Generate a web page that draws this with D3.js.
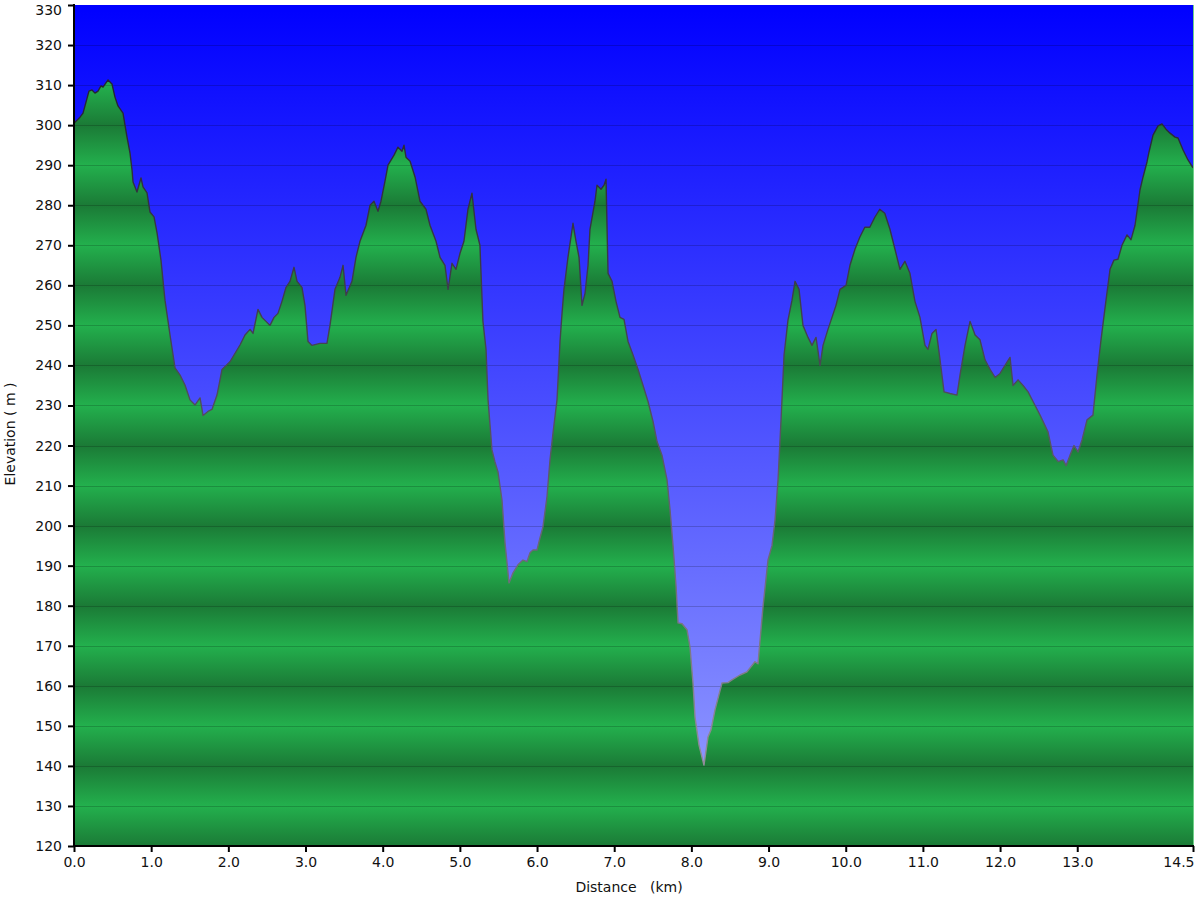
<!DOCTYPE html>
<html>
<head>
<meta charset="utf-8">
<script src="https://cdn.jsdelivr.net/npm/d3@7"></script>
<style>
  html, body { margin: 0; padding: 0; background: #ffffff; }
  svg { display: block; font-family: "DejaVu Sans", Verdana, sans-serif; }
</style>
</head>
<body>
<svg id="chart" width="1200" height="900"></svg>
<script>
// ---- data ----
const distanceKm = [
  0, 0.078, 0.117, 0.194, 0.233, 0.272, 0.311, 0.350, 0.376, 0.441, 0.492, 0.531, 0.570, 0.635, 0.687, 0.726, 0.752, 0.765,
  0.816, 0.868, 0.894, 0.946, 0.985, 1.037, 1.076, 1.127, 1.179, 1.244, 1.309, 1.374, 1.438, 1.503, 1.568, 1.633, 1.672,
  1.736, 1.788, 1.853, 1.892, 1.918, 2.021, 2.151, 2.216, 2.281, 2.320, 2.384, 2.436, 2.488, 2.540, 2.592, 2.643, 2.695,
  2.747, 2.799, 2.851, 2.890, 2.954, 2.993, 3.032, 3.084, 3.188, 3.278, 3.317, 3.382, 3.447, 3.486, 3.525, 3.602, 3.654,
  3.706, 3.784, 3.836, 3.887, 3.939, 3.978, 4.030, 4.069, 4.147, 4.198, 4.250, 4.276, 4.302, 4.355, 4.420, 4.483, 4.561,
  4.613, 4.691, 4.743, 4.807, 4.847, 4.898, 4.950, 5.002, 5.053, 5.105, 5.157, 5.209, 5.260, 5.299, 5.339, 5.365, 5.416,
  5.455, 5.494, 5.546, 5.585, 5.637, 5.689, 5.753, 5.818, 5.870, 5.909, 5.948, 5.999, 6.038, 6.077, 6.129, 6.168, 6.207,
  6.259, 6.298, 6.324, 6.349, 6.401, 6.466, 6.505, 6.544, 6.583, 6.622, 6.661, 6.686, 6.751, 6.777, 6.829, 6.868, 6.894,
  6.920, 6.972, 7.023, 7.075, 7.127, 7.179, 7.244, 7.309, 7.374, 7.438, 7.503, 7.555, 7.619, 7.684, 7.723, 7.762, 7.801,
  7.827, 7.879, 7.943, 7.982, 8.021, 8.047, 8.099, 8.163, 8.215, 8.254, 8.306, 8.397, 8.474, 8.526, 8.630, 8.721, 8.824,
  8.863, 8.928, 8.993, 9.045, 9.084, 9.123, 9.162, 9.201, 9.252, 9.304, 9.343, 9.395, 9.446, 9.511, 9.563, 9.615, 9.667,
  9.706, 9.770, 9.822, 9.874, 9.926, 10.004, 10.055, 10.120, 10.182, 10.247, 10.312, 10.377, 10.441, 10.506, 10.573,
  10.638, 10.703, 10.767, 10.832, 10.897, 10.962, 11.027, 11.066, 11.118, 11.170, 11.222, 11.274, 11.351, 11.442, 11.481,
  11.546, 11.611, 11.676, 11.740, 11.805, 11.870, 11.935, 12.000, 12.064, 12.129, 12.168, 12.233, 12.298, 12.363, 12.427,
  12.518, 12.621, 12.686, 12.752, 12.817, 12.856, 12.907, 12.958, 13.010, 13.062, 13.127, 13.204, 13.256, 13.308, 13.373,
  13.425, 13.476, 13.528, 13.580, 13.645, 13.697, 13.749, 13.813, 13.852, 13.904, 13.930, 13.982, 14.047, 14.098, 14.150,
  14.202, 14.267, 14.306, 14.371, 14.435, 14.500
];
const elevationM = [
  300.5, 302.0, 303.0, 308.5, 308.8, 308.0, 308.5, 309.8, 309.5, 311.3, 310.3, 307.0, 304.8, 303.0, 297.0, 293.0, 288.8, 285.8,
  283.3, 286.8, 284.6, 283.1, 278.3, 277.1, 273.1, 266.3, 256.3, 247.6, 239.4, 237.6, 235.1, 231.4, 230.1, 231.9, 227.5,
  228.5, 229.0, 232.6, 236.4, 239.0, 240.9, 245.1, 247.6, 249.0, 248.0, 254.0, 252.0, 251.0, 250.0, 252.0, 253.0, 256.0,
  259.5, 261.0, 264.5, 261.0, 259.5, 255.0, 246.0, 245.0, 245.5, 245.5, 250.0, 259.0, 262.0, 265.0, 257.5, 261.0, 267.0,
  271.0, 275.0, 280.0, 281.0, 278.5, 281.0, 286.0, 290.0, 292.5, 294.5, 293.5, 295.0, 292.0, 291.0, 287.0, 281.0, 279.0,
  275.0, 271.0, 267.0, 265.0, 259.0, 265.5, 264.0, 268.0, 271.0, 279.0, 283.0, 274.0, 270.0, 251.0, 244.0, 231.4, 218.9,
  215.9, 213.4, 206.4, 195.7, 185.7, 188.2, 190.2, 191.4, 191.0, 193.2, 193.9, 193.9, 196.9, 199.7, 207.2, 216.4, 223.1,
  231.4, 246.0, 253.0, 259.0, 267.0, 275.5, 271.0, 267.0, 255.0, 258.0, 265.0, 274.0, 281.0, 285.0, 284.0, 285.0, 286.5,
  263.0, 261.0, 256.0, 252.0, 251.5, 246.0, 242.6, 239.0, 235.0, 231.0, 226.0, 221.0, 217.6, 211.5, 204.0, 195.0, 185.0,
  175.7, 175.5, 174.0, 169.7, 160.7, 152.2, 145.2, 140.2, 147.2, 149.0, 154.0, 160.7, 160.8, 161.5, 162.7, 163.5, 166.0,
  165.5, 179.7, 191.4, 195.0, 201.4, 211.4, 226.4, 242.6, 251.3, 256.3, 261.0, 259.0, 250.0, 247.0, 245.0, 247.0, 240.0,
  245.0, 249.0, 252.0, 255.0, 259.0, 260.0, 265.0, 269.0, 272.0, 274.5, 274.5, 277.0, 279.0, 278.0,
  274.0, 269.0, 264.0, 266.0, 263.0, 256.0, 252.0, 245.0, 244.0, 248.0, 249.0, 241.4, 233.4, 233.0, 232.6, 237.6,
  245.0, 251.0, 247.6, 246.4, 241.4, 239.0, 237.0, 238.0, 240.0, 242.0, 235.0, 236.4, 235.0, 233.4, 231.0,
  227.6, 223.4, 217.6, 216.0, 216.4, 215.0, 217.6, 220.0, 218.4, 221.4, 226.4, 227.6, 237.6, 246.4, 256.3,
  264.0, 266.3, 266.5, 270.0, 272.6, 271.4, 275.0, 283.8, 287.0, 290.8, 293.3, 297.5, 299.8, 300.3, 299.0,
  298.0, 297.0, 296.8, 293.8, 291.3, 289.3
];
const xTickValues = [0, 1, 2, 3, 4, 5, 6, 7, 8, 9, 10, 11, 12, 13, 14.5];
const yTickValues = d3.range(120, 331, 10);
const xAxisTitle = "Distance   (km)";
const yAxisTitle = "Elevation ( m )";

// ---- layout ----
const svg = d3.select("#chart");
const L = 74, R = 1193, T = 5, B = 846;
const x = d3.scaleLinear().domain([0, 14.5]).range([L, R]);
const y = d3.scaleLinear().domain([120, 330]).range([B, T]);

const data = distanceKm.map((d, i) => ({ d, e: elevationM[i] }));

const defs = svg.append("defs");
const sky = defs.append("linearGradient").attr("id", "sky")
  .attr("gradientUnits", "userSpaceOnUse")
  .attr("x1", 0).attr("x2", 0).attr("y1", T).attr("y2", B);
sky.append("stop").attr("offset", 0).attr("stop-color", "#0000ff");
sky.append("stop").attr("offset", 1).attr("stop-color", "#9aa3ff");

const green = defs.append("linearGradient").attr("id", "green")
  .attr("gradientUnits", "userSpaceOnUse")
  .attr("spreadMethod", "repeat")
  .attr("x1", 0).attr("x2", 0).attr("y1", y(140)).attr("y2", y(120));
green.append("stop").attr("offset", 0).attr("stop-color", "#1b7a36");
green.append("stop").attr("offset", 0.5).attr("stop-color", "#23b04d");
green.append("stop").attr("offset", 1).attr("stop-color", "#1b7a36");

const lineGrad = defs.append("linearGradient").attr("id", "lineGrad")
  .attr("gradientUnits", "userSpaceOnUse")
  .attr("x1", 0).attr("x2", 0).attr("y1", T).attr("y2", B);
lineGrad.append("stop").attr("offset", 0).attr("stop-color", "#1a1a2a");
lineGrad.append("stop").attr("offset", 0.4).attr("stop-color", "#444450");
lineGrad.append("stop").attr("offset", 1).attr("stop-color", "#a09aa8");

// background
svg.append("rect").attr("x", L).attr("y", T).attr("width", R - L).attr("height", B - T)
  .attr("fill", "url(#sky)");

// area
const area = d3.area().x(d => x(d.d)).y0(y(120)).y1(d => y(d.e));
svg.append("path").datum(data).attr("d", area).attr("fill", "url(#green)");

// gridlines
svg.append("g").selectAll("line").data(yTickValues.filter(v => v > 120 && v < 330)).join("line")
  .attr("x1", L).attr("x2", R)
  .attr("y1", d => Math.round(y(d)) + 0.5).attr("y2", d => Math.round(y(d)) + 0.5)
  .attr("stroke", "rgba(0,0,0,0.18)").attr("stroke-width", 1);

// profile line
const line = d3.line().x(d => x(d.d)).y(d => y(d.e));
svg.append("path").datum(data).attr("d", line)
  .attr("fill", "none").attr("stroke", "url(#lineGrad)").attr("stroke-width", 1.4)
  .attr("stroke-linejoin", "round");

// right edge line
svg.append("line").attr("x1", R + 0.5).attr("x2", R + 0.5).attr("y1", T).attr("y2", B)
  .attr("stroke", "#6fd088").attr("stroke-width", 1);

// axes
const yAxis = d3.axisLeft(y).tickValues(yTickValues).tickSize(6).tickPadding(6).tickFormat(d3.format("d"));
const gy = svg.append("g").attr("transform", `translate(${L},0)`).call(yAxis);
gy.select(".domain").attr("stroke", "#000").attr("stroke-width", 2).attr("d", `M0,${T - 1}V${B + 1}`);
gy.selectAll(".tick line").attr("stroke", "#000").attr("stroke-width", 2);
gy.selectAll(".tick text").attr("font-size", 14).attr("fill", "#111")
  .attr("font-family", "DejaVu Sans, Verdana, sans-serif");
gy.selectAll(".tick").filter(d => d === 330).select("text").attr("dy", "0.75em").attr("y", -1);

const xAxis = d3.axisBottom(x).tickValues(xTickValues).tickSize(6).tickPadding(5).tickFormat(d3.format(".1f"));
const gx = svg.append("g").attr("transform", `translate(0,${B})`).call(xAxis);
gx.select(".domain").attr("stroke", "#000").attr("stroke-width", 2).attr("d", `M${L - 1},0H${R + 1}`);
gx.selectAll(".tick line").attr("stroke", "#000").attr("stroke-width", 2);
gx.selectAll(".tick text").attr("font-size", 14).attr("fill", "#111")
  .attr("font-family", "DejaVu Sans, Verdana, sans-serif");
gx.selectAll(".tick").filter(d => d === 14.5).select("text").attr("text-anchor", "end").attr("x", 1);

// axis titles
svg.append("text").attr("x", 629).attr("y", 892).attr("text-anchor", "middle")
  .attr("font-size", 14).attr("fill", "#111").style("white-space", "pre").text(xAxisTitle);
svg.append("text").attr("transform", "translate(15,434) rotate(-90)").attr("text-anchor", "middle")
  .attr("font-size", 14).attr("fill", "#111").style("white-space", "pre").text(yAxisTitle);
</script>
</body>
</html>
